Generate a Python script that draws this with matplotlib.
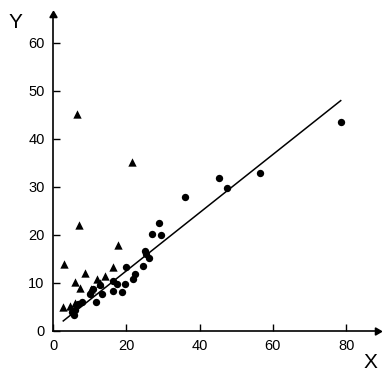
import matplotlib.pyplot as plt
import numpy as np

# triangles (group A)
tri_x = [6.6, 21.5, 7.1, 17.6, 3.0, 6.1, 8.6, 7.5, 2.8, 4.6, 11.9, 14.1, 16.4, 10.3, 12.8, 6.0]
tri_y = [45.2, 35.1, 22.1, 18.0, 14.0, 10.3, 12.0, 8.9, 4.9, 5.2, 10.8, 11.5, 13.4, 8.7, 9.9, 5.8]

# circles (group B)
circ_x = [78.5, 56.5, 45.2, 47.4, 36.1, 28.8, 26.9, 29.5, 25.0, 25.4, 26.1, 24.6, 20.0,
          22.5, 21.7, 19.6, 18.7, 16.3, 17.4, 16.4, 13.4, 11.7, 10.1, 10.9, 7.8, 6.9,
          6.0, 5.7, 5.3, 12.7]
circ_y = [43.5, 32.8, 31.9, 29.7, 27.9, 22.4, 20.1, 20.0, 16.7, 16.0, 15.1, 13.5, 13.3,
          11.8, 10.9, 9.7, 8.1, 8.4, 9.8, 10.4, 7.7, 6.1, 7.8, 8.8, 6.0, 5.6,
          4.4, 3.3, 4.0, 9.5]

# regression line
fit_slope = 0.606
fit_intercept = 0.4
fit_range = [2.8, 78.5]

xticks = [0, 20, 40, 60, 80]
yticks = [0, 10, 20, 30, 40, 50, 60]

plt.rcParams['font.family'] = ['Liberation Sans', 'DejaVu Sans']

fig = plt.figure(figsize=(3.91, 3.79), dpi=100)
ax = fig.add_axes([53 / 391, 48 / 379, (377 - 53) / 391, (331 - 15) / 379])

ax.scatter(tri_x, tri_y, marker='^', s=36, color='black', linewidths=0, zorder=3)
ax.scatter(circ_x, circ_y, marker='o', s=28, color='black', linewidths=0, zorder=3)

fx = np.array(fit_range)
ax.plot(fx, fit_slope * fx + fit_intercept, color='black', lw=1.1, zorder=2)

ax.set_xlim(0, 88.4)
ax.set_ylim(0, 65.8)
ax.set_xticks(xticks)
ax.set_yticks(yticks)
ax.tick_params(direction='in', length=5, width=1, labelsize=10.5, pad=6)

for s in ['top', 'right']:
    ax.spines[s].set_visible(False)
for s in ['left', 'bottom']:
    ax.spines[s].set_linewidth(1.2)

# arrow heads at the axis ends
ax.plot(1, 0, marker=(3, 0, -90), color='black', ms=6, transform=ax.transAxes, clip_on=False)
ax.plot(0, 1, marker=(3, 0, 0), color='black', ms=6, transform=ax.transAxes, clip_on=False)

fig.text(15 / 391, 1 - 22 / 379, 'Y', fontsize=15, ha='center', va='center')
fig.text(370 / 391, 1 - 362 / 379, 'X', fontsize=15, ha='center', va='center')

plt.savefig('out.png', dpi=100)
